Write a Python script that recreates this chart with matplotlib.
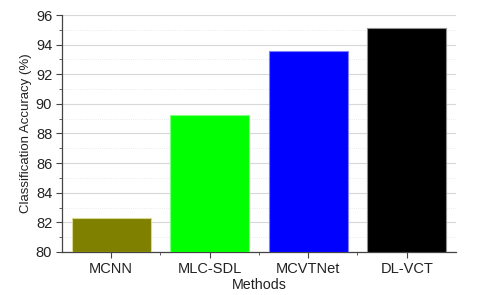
import matplotlib
matplotlib.use('Agg')
import matplotlib.pyplot as plt
from matplotlib.ticker import MultipleLocator, FixedLocator

methods = ['MCNN', 'MLC-SDL', 'MCVTNet', 'DL-VCT']
accuracy = [82.32, 89.25, 93.6, 95.11]
colors = ['#808000', '#00ff00', '#0000ff', '#000000']
edges = ['#d8d890', '#80ff80', '#8080ff', '#909090']

plt.rcParams['font.family'] = ['Liberation Sans', 'DejaVu Sans']

fig = plt.figure(figsize=(4.8, 2.95), dpi=100)
ax = fig.add_axes([0.129, 0.146, 0.821, 0.803])

x = list(range(len(methods)))
ax.bar(x, [a - 80 for a in accuracy], bottom=80, width=0.8, color=colors,
       edgecolor=edges, linewidth=0.8, zorder=3)

ax.set_xlim(-0.5, 3.5)
ax.set_ylim(80, 96)
ax.yaxis.set_major_locator(MultipleLocator(2))
ax.yaxis.set_minor_locator(MultipleLocator(1))
ax.set_xticks(x)
ax.set_xticklabels(methods)
ax.xaxis.set_minor_locator(FixedLocator([0.5, 1.5, 2.5]))

ax.grid(axis='y', which='major', color='#d8d8d8', linewidth=0.8, zorder=0)
ax.grid(axis='y', which='minor', color='#e4e4e4', linewidth=0.6, linestyle=':', zorder=0)

for s in ['top', 'right']:
    ax.spines[s].set_visible(False)
for s in ['left', 'bottom']:
    ax.spines[s].set_color('#444444')
    ax.spines[s].set_linewidth(0.9)

ax.tick_params(which='major', direction='out', length=4, width=0.8, color='#444444',
               labelsize=10.5, labelcolor='#222222', pad=3)
ax.tick_params(which='minor', direction='out', length=2.5, width=0.6, color='#444444')

ax.set_ylabel('Classification Accuracy (%)', fontsize=9.5, color='#222222', labelpad=3)
ax.set_xlabel('Methods', fontsize=10.3, color='#222222', labelpad=2)

fig.savefig('out.png', dpi=100)
